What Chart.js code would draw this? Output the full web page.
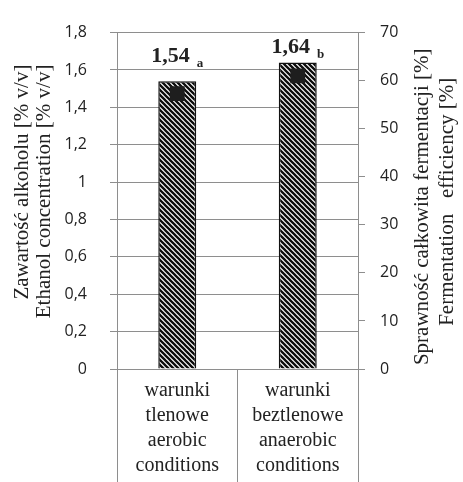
<!DOCTYPE html>
<html>
<head>
<meta charset="utf-8">
<script src="https://cdn.jsdelivr.net/npm/chart.js@4/dist/chart.umd.min.js"></script>
<style>
  html, body { margin: 0; padding: 0; background: #fff; }
</style>
</head>
<body>
<canvas id="chart" width="463" height="482"></canvas>
<script>
const categories = [
  ['warunki', 'tlenowe', 'aerobic', 'conditions'],
  ['warunki', 'beztlenowe', 'anaerobic', 'conditions']
];
const ethanolValues = [1.54, 1.64];
const efficiencyValues = [57.3, 61.0];
const groupLetters = ['a', 'b'];
const leftTitle = ['Zawartość alkoholu [% v/v]', 'Ethanol concentration [% v/v]'];
const rightTitle = ['Sprawność całkowita fermentacji [%]', 'Fermentation   efficiency [%]'];

const GRID = '#8e8e8e';
const SERIF = '"Liberation Serif", serif';
const SANS = '"Open Sans", sans-serif';

const canvas = document.getElementById('chart');
const ctx = canvas.getContext('2d');

// diagonal hatch like the excel pattern fill
function makeHatch() {
  const n = 5;
  const c = document.createElement('canvas');
  c.width = n; c.height = n;
  const g = c.getContext('2d');
  g.fillStyle = '#fff';
  g.fillRect(0, 0, n, n);
  g.strokeStyle = '#0d0d0d';
  g.lineWidth = 2.3;
  g.beginPath();
  g.moveTo(-1, -1); g.lineTo(n + 1, n + 1);
  g.moveTo(-1, n - 1); g.lineTo(1, n + 1);
  g.moveTo(n - 1, -1); g.lineTo(n + 1, 1);
  g.stroke();
  return ctx.createPattern(c, 'repeat');
}

const fmt = v => Number(v.toFixed(2)).toString().replace('.', ',');

function drawRotated(c, text, x, y) {
  c.save();
  c.translate(x, y);
  c.rotate(-Math.PI / 2);
  c.fillText(text, 0, 0);
  c.restore();
}

const extras = {
  id: 'extras',
  afterDraw(chart) {
    const c = chart.ctx;
    const area = chart.chartArea;
    const mid = (area.top + area.bottom) / 2;
    c.save();
    c.fillStyle = '#222';
    c.textBaseline = 'middle';
    c.font = '21px ' + SERIF;

    // left title: both lines end at the same height
    c.textAlign = 'right';
    drawRotated(c, leftTitle[0], 22, area.top + 32);
    drawRotated(c, leftTitle[1], 44, area.top + 32);

    // right title, centred, also reading bottom to top
    c.textAlign = 'center';
    drawRotated(c, rightTitle[0], 422, mid + 6);
    drawRotated(c, rightTitle[1], 447, mid + 1);

    // value labels with subscript letters
    const offsets = [19, 10];
    const bars = chart.getDatasetMeta(1).data;
    c.textAlign = 'left';
    c.textBaseline = 'alphabetic';
    bars.forEach((bar, i) => {
      const main = fmt(ethanolValues[i]);
      c.font = 'bold 22px ' + SERIF;
      const w1 = c.measureText(main).width;
      c.font = 'bold 13px ' + SERIF;
      const w2 = c.measureText(groupLetters[i]).width;
      const gap = 7;
      const x0 = bar.x - (w1 + gap + w2) / 2;
      const y0 = bar.y - offsets[i];
      c.font = 'bold 22px ' + SERIF;
      c.fillText(main, x0, y0);
      c.font = 'bold 13px ' + SERIF;
      c.fillText(groupLetters[i], x0 + w1 + gap, y0 + 5);
    });
    c.restore();
  }
};

new Chart(canvas, {
  type: 'bar',
  data: {
    labels: categories,
    datasets: [
      {
        type: 'line',
        label: 'Fermentation efficiency',
        data: efficiencyValues,
        yAxisID: 'y1',
        showLine: false,
        pointStyle: 'rect',
        pointRadius: 10.5,
        pointBackgroundColor: '#1e1e1e',
        pointBorderColor: '#1e1e1e',
        pointBorderWidth: 0,
        order: 0
      },
      {
        label: 'Ethanol concentration',
        data: ethanolValues,
        yAxisID: 'y',
        backgroundColor: makeHatch(),
        borderColor: '#111',
        borderWidth: 1.5,
        barPercentage: 0.315,
        categoryPercentage: 1,
        order: 1
      }
    ]
  },
  options: {
    responsive: false,
    animation: false,
    layout: { padding: { top: 22, left: 0, right: 0, bottom: 0 } },
    plugins: {
      legend: { display: false },
      tooltip: { enabled: false }
    },
    scales: {
      x: {
        offset: true,
        grid: {
          offset: true,
          drawOnChartArea: false,
          tickLength: 120,
          color: GRID
        },
        border: { color: GRID },
        ticks: {
          autoSkip: false,
          maxRotation: 0,
          padding: -111,
          color: '#222',
          font: { family: SERIF, size: 20, lineHeight: 1.25 }
        },
        afterFit: s => { s.height = 113; }
      },
      y: {
        position: 'left',
        min: 0,
        max: 1.8,
        grid: { color: GRID, tickLength: 7 },
        border: { color: GRID },
        ticks: {
          stepSize: 0.2,
          padding: 23,
          color: '#222',
          font: { family: SANS, size: 16 },
          callback: v => fmt(v)
        },
        afterFit: s => { s.width = 117; }
      },
      y1: {
        position: 'right',
        min: 0,
        max: 70,
        grid: { drawOnChartArea: false, color: GRID, tickLength: 7 },
        border: { color: GRID },
        ticks: {
          stepSize: 10,
          padding: 15,
          color: '#222',
          font: { family: SANS, size: 16 }
        },
        afterFit: s => { s.width = 105; }
      }
    }
  },
  plugins: [extras]
});
</script>
</body>
</html>
